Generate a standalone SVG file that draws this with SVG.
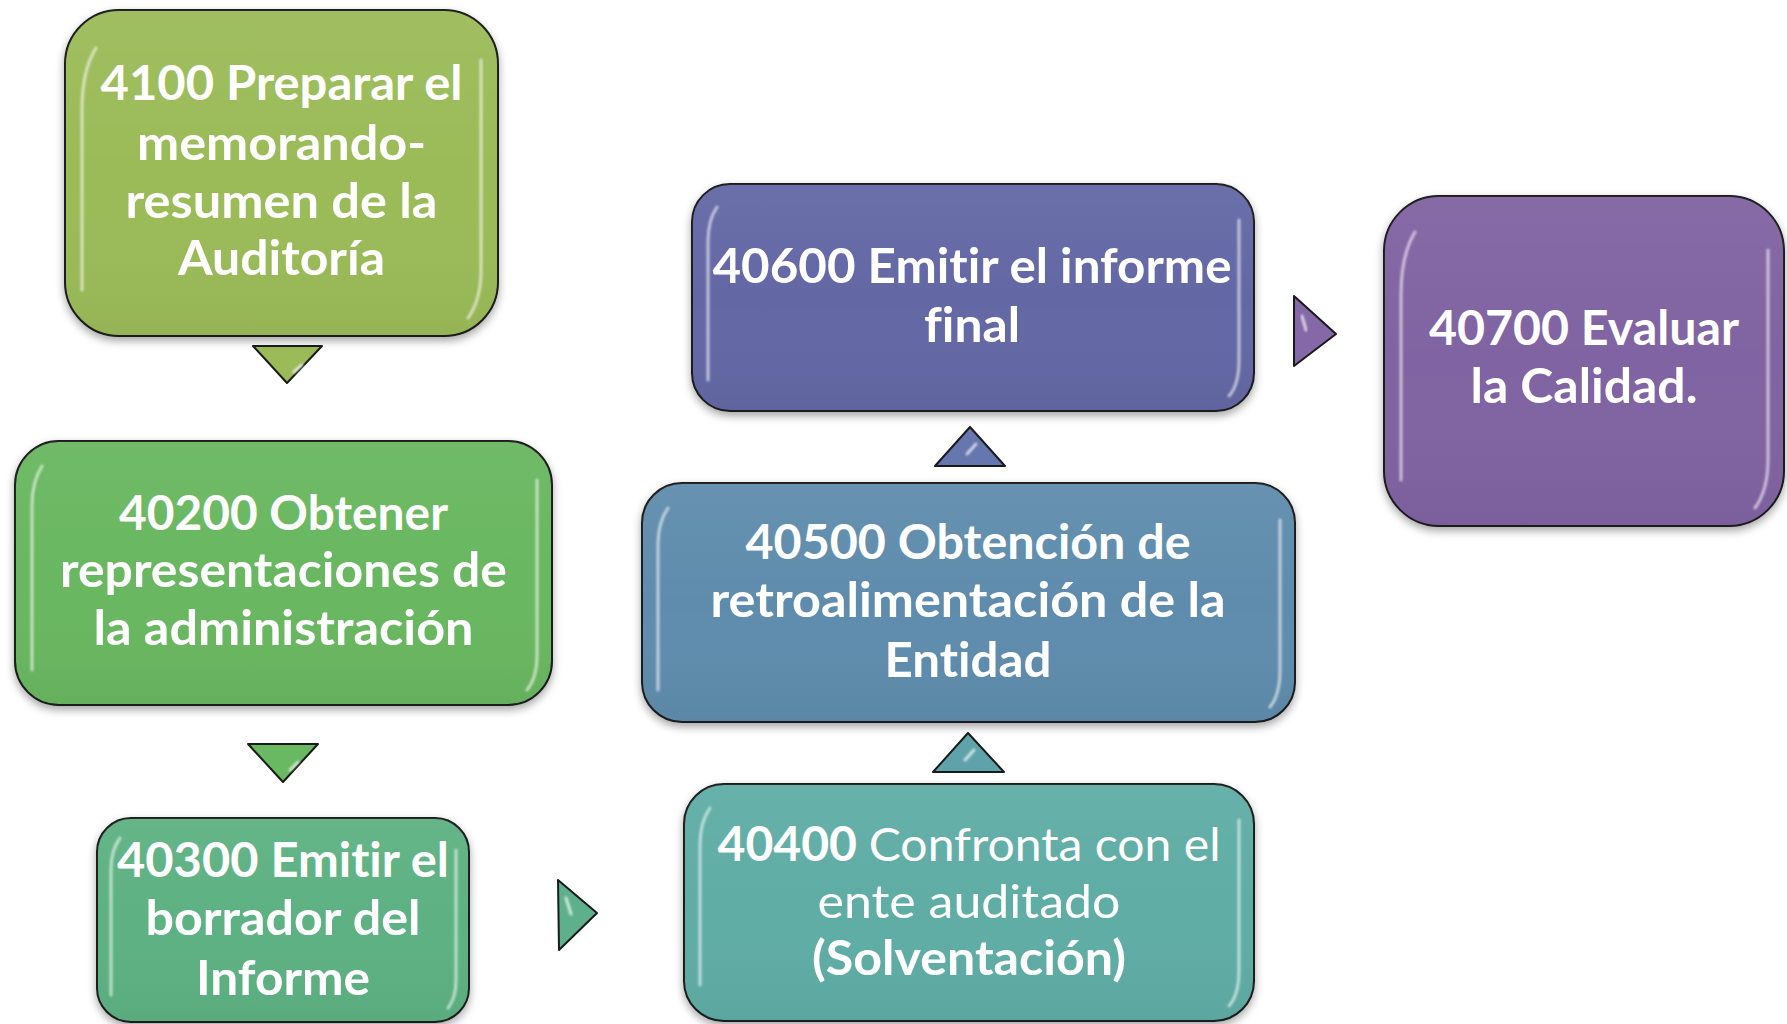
<svg xmlns="http://www.w3.org/2000/svg" width="1787" height="1024" viewBox="0 0 1787 1024">
<defs>
<style>
.box{stroke:#1a1a1a;stroke-width:2;filter:url(#sh)}
.gloss{fill:url(#gl)}
.hl{fill:none;stroke:#ffffff;stroke-width:3;stroke-linecap:round;opacity:0.6;filter:url(#bl)}
.t{font-family:Lato,"Liberation Sans",sans-serif;font-weight:700;font-size:47px;fill:#ffffff;text-anchor:middle;font-variant-ligatures:none;font-feature-settings:"liga" 0,"clig" 0}
.r{font-weight:400}
.arr{stroke:#1a1a1a;stroke-width:2;stroke-linejoin:round}
.ahl{fill:none;stroke:#ffffff;stroke-width:3;stroke-linecap:round;opacity:0.7;filter:url(#bl)}
</style>
<filter id="sh" x="-10%" y="-10%" width="120%" height="125%">
<feDropShadow dx="0" dy="4" stdDeviation="4" flood-color="#000" flood-opacity="0.35"/>
</filter>
<filter id="bl" x="-50%" y="-50%" width="200%" height="200%">
<feGaussianBlur stdDeviation="1.2"/>
</filter>
<linearGradient id="gl" x1="0" y1="0" x2="0" y2="1">
<stop offset="0" stop-color="#fff" stop-opacity="0.05"/>
<stop offset="0.5" stop-color="#fff" stop-opacity="0"/>
<stop offset="1" stop-color="#000" stop-opacity="0.04"/>
</linearGradient>
</defs>

<g id="connectors">
<polygon class="arr" points="253,346 322,346 287,383" fill="#9BBB59"/>
<path class="ahl" d="M302,365 L294,372"/>
<polygon class="arr" points="248,744 318,744 283,782" fill="#69B862"/>
<path class="ahl" d="M298,762 L290,770"/>
<polygon class="arr" points="558,880 597,913 559,950" fill="#5EB08C"/>
<path class="ahl" d="M566,898 L571,914"/>
<polygon class="arr" points="933,772 1004,772 968,733" fill="#5FA3AA"/>
<path class="ahl" d="M974,750 L965,760"/>
<polygon class="arr" points="935,466 1005,466 970,427" fill="#6676AE"/>
<path class="ahl" d="M976,444 L967,454"/>
<polygon class="arr" points="1294,296 1336,334 1294,366" fill="#8568A8"/>
<path class="ahl" d="M1302,316 L1306,330"/>
</g>

<g id="n4100">
<rect class="box" x="65" y="10" width="433" height="326" rx="54" fill="#9BBB59"/>
<rect class="gloss" x="65" y="10" width="433" height="326" rx="54"/>
<path class="hl" d="M96,48 Q82,70 82,110 L82,290"/>
<path class="hl" d="M481,60 L481,270 Q481,300 468,318"/>
<text class="t" x="281.5" y="100" textLength="362" lengthAdjust="spacingAndGlyphs">4100 Preparar el</text>
<text class="t" x="281.5" y="160" textLength="289" lengthAdjust="spacingAndGlyphs">memorando-</text>
<text class="t" x="281.5" y="218" textLength="312" lengthAdjust="spacingAndGlyphs">resumen de la</text>
<text class="t" x="281.5" y="275" textLength="207" lengthAdjust="spacingAndGlyphs">Auditoría</text>
</g>

<g id="n40200">
<rect class="box" x="15" y="441" width="537" height="264" rx="44" fill="#69B761"/>
<rect class="gloss" x="15" y="441" width="537" height="264" rx="44"/>
<path class="hl" d="M42,466 Q32,482 32,505 L32,670"/>
<path class="hl" d="M537,480 L537,655 Q537,678 527,690"/>
<text class="t" x="283.5" y="530" textLength="329" lengthAdjust="spacingAndGlyphs">40200 Obtener</text>
<text class="t" x="283.5" y="587" textLength="447" lengthAdjust="spacingAndGlyphs">representaciones de</text>
<text class="t" x="283.5" y="645" textLength="380" lengthAdjust="spacingAndGlyphs">la administración</text>
</g>

<g id="n40300">
<rect class="box" x="97" y="818" width="372" height="204" rx="34" fill="#5DB182"/>
<rect class="gloss" x="97" y="818" width="372" height="204" rx="34"/>
<path class="hl" d="M120,838 Q111,850 111,870 L111,995"/>
<path class="hl" d="M456,850 L456,980 Q456,998 448,1008"/>
<text class="t" x="283" y="877" textLength="332" lengthAdjust="spacingAndGlyphs">40300 Emitir el</text>
<text class="t" x="283" y="935" textLength="275" lengthAdjust="spacingAndGlyphs">borrador del</text>
<text class="t" x="283" y="995" textLength="174" lengthAdjust="spacingAndGlyphs">Informe</text>
</g>

<g id="n40400">
<rect class="box" x="684" y="784" width="570" height="237" rx="40" fill="#5EADA5"/>
<rect class="gloss" x="684" y="784" width="570" height="237" rx="40"/>
<path class="hl" d="M710,808 Q700,822 700,845 L700,985"/>
<path class="hl" d="M1239,820 L1239,970 Q1239,995 1229,1006"/>
<text class="t" x="969" y="861" textLength="503" lengthAdjust="spacingAndGlyphs">40400 <tspan class="r">Confronta con el</tspan></text>
<text class="t r" x="969" y="918" textLength="303" lengthAdjust="spacingAndGlyphs">ente auditado</text>
<text class="t" x="969" y="975" textLength="314" lengthAdjust="spacingAndGlyphs">(Solventación)</text>
</g>

<g id="n40500">
<rect class="box" x="642" y="483" width="653" height="239" rx="40" fill="#5F8CAD"/>
<rect class="gloss" x="642" y="483" width="653" height="239" rx="40"/>
<path class="hl" d="M668,508 Q658,522 658,545 L658,690"/>
<path class="hl" d="M1280,520 L1280,670 Q1280,695 1270,707"/>
<text class="t" x="968" y="559" textLength="445" lengthAdjust="spacingAndGlyphs">40500 Obtención de</text>
<text class="t" x="968" y="617" textLength="515" lengthAdjust="spacingAndGlyphs">retroalimentación de la</text>
<text class="t" x="968" y="677" textLength="167" lengthAdjust="spacingAndGlyphs">Entidad</text>
</g>

<g id="n40600">
<rect class="box" x="692" y="184" width="562" height="227" rx="38" fill="#6368A5"/>
<rect class="gloss" x="692" y="184" width="562" height="227" rx="38"/>
<path class="hl" d="M717,207 Q708,220 708,242 L708,380"/>
<path class="hl" d="M1239,220 L1239,360 Q1239,385 1229,396"/>
<text class="t" x="972" y="283" textLength="519" lengthAdjust="spacingAndGlyphs">40600 Emitir el informe</text>
<text class="t" x="972" y="342" textLength="96" lengthAdjust="spacingAndGlyphs">final</text>
</g>

<g id="n40700">
<rect class="box" x="1384" y="196" width="400" height="330" rx="55" fill="#8064A2"/>
<rect class="gloss" x="1384" y="196" width="400" height="330" rx="55"/>
<path class="hl" d="M1415,232 Q1401,255 1401,295 L1401,480"/>
<path class="hl" d="M1768,250 L1768,460 Q1768,490 1755,508"/>
<text class="t" x="1584" y="345" textLength="310" lengthAdjust="spacingAndGlyphs">40700 Evaluar</text>
<text class="t" x="1584" y="403" textLength="227" lengthAdjust="spacingAndGlyphs">la Calidad.</text>
</g>
</svg>
